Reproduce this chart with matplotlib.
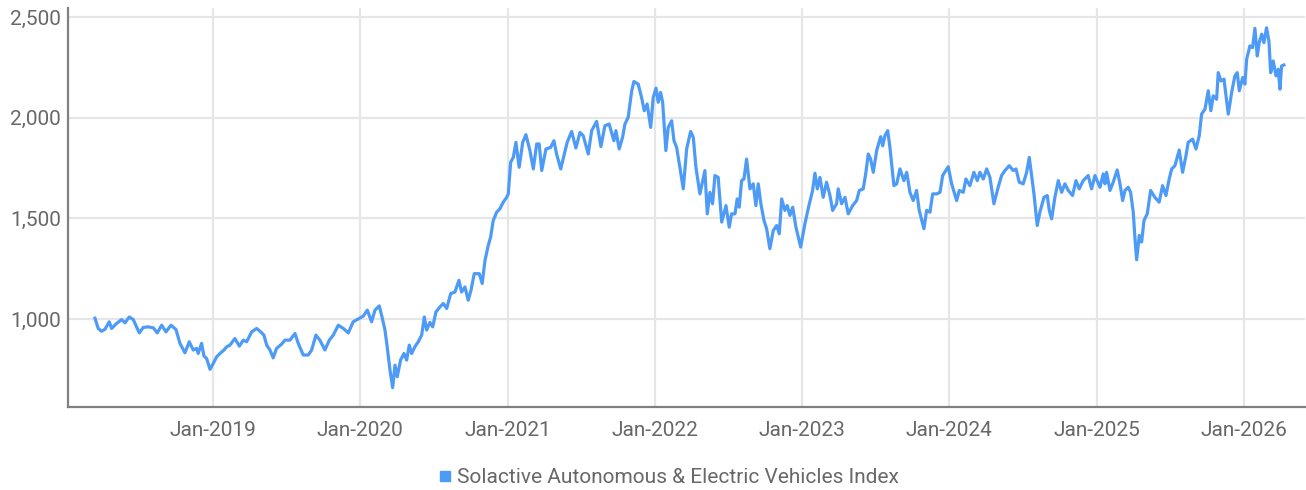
import matplotlib
matplotlib.use("Agg")
import matplotlib.pyplot as plt
from matplotlib.lines import Line2D
from datetime import datetime, timedelta

# Decimal-year dates and index levels
years = [
    2018.199, 2018.221, 2018.244, 2018.267, 2018.296, 2018.312, 2018.346, 2018.380, 2018.403, 2018.432,
    2018.459, 2018.500, 2018.527, 2018.561, 2018.595, 2018.622, 2018.652, 2018.681, 2018.715, 2018.749,
    2018.776, 2018.810, 2018.839, 2018.866, 2018.889, 2018.900, 2018.923, 2018.939, 2018.957, 2018.980,
    2019.002, 2019.025, 2019.048, 2019.075, 2019.093, 2019.115, 2019.149, 2019.179, 2019.206, 2019.229,
    2019.263, 2019.297, 2019.324, 2019.346, 2019.365, 2019.387, 2019.409, 2019.432, 2019.466, 2019.489,
    2019.523, 2019.557, 2019.579, 2019.613, 2019.647, 2019.670, 2019.699, 2019.726, 2019.760, 2019.790,
    2019.817, 2019.851, 2019.885, 2019.919, 2019.952, 2019.998, 2020.020, 2020.048, 2020.077, 2020.100,
    2020.129, 2020.145, 2020.168, 2020.183, 2020.202, 2020.220, 2020.236, 2020.251, 2020.274, 2020.297,
    2020.315, 2020.333, 2020.349, 2020.371, 2020.394, 2020.417, 2020.435, 2020.451, 2020.473, 2020.492,
    2020.514, 2020.541, 2020.564, 2020.587, 2020.614, 2020.643, 2020.670, 2020.688, 2020.711, 2020.733,
    2020.752, 2020.774, 2020.808, 2020.828, 2020.847, 2020.869, 2020.885, 2020.903, 2020.926, 2020.948,
    2020.971, 2020.994, 2021.005, 2021.021, 2021.039, 2021.057, 2021.079, 2021.103, 2021.125, 2021.152,
    2021.175, 2021.198, 2021.215, 2021.232, 2021.261, 2021.293, 2021.315, 2021.333, 2021.361, 2021.383,
    2021.405, 2021.435, 2021.464, 2021.492, 2021.514, 2021.548, 2021.571, 2021.605, 2021.634, 2021.661,
    2021.690, 2021.722, 2021.736, 2021.758, 2021.781, 2021.797, 2021.819, 2021.843, 2021.858, 2021.887,
    2021.910, 2021.928, 2021.948, 2021.972, 2021.989, 2022.008, 2022.023, 2022.039, 2022.053, 2022.075,
    2022.091, 2022.114, 2022.130, 2022.148, 2022.170, 2022.193, 2022.216, 2022.243, 2022.261, 2022.279,
    2022.306, 2022.329, 2022.340, 2022.356, 2022.374, 2022.392, 2022.408, 2022.430, 2022.454, 2022.483,
    2022.505, 2022.521, 2022.544, 2022.559, 2022.573, 2022.589, 2022.605, 2022.623, 2022.646, 2022.668,
    2022.686, 2022.702, 2022.720, 2022.741, 2022.759, 2022.781, 2022.804, 2022.827, 2022.845, 2022.861,
    2022.883, 2022.899, 2022.917, 2022.936, 2022.958, 2022.990, 2023.019, 2023.041, 2023.071, 2023.087,
    2023.103, 2023.121, 2023.143, 2023.166, 2023.189, 2023.207, 2023.234, 2023.245, 2023.268, 2023.291,
    2023.313, 2023.343, 2023.370, 2023.388, 2023.415, 2023.433, 2023.449, 2023.465, 2023.483, 2023.506,
    2023.533, 2023.547, 2023.562, 2023.581, 2023.596, 2023.623, 2023.642, 2023.664, 2023.691, 2023.710,
    2023.732, 2023.754, 2023.777, 2023.795, 2023.827, 2023.845, 2023.868, 2023.886, 2023.913, 2023.936,
    2023.954, 2023.992, 2024.015, 2024.049, 2024.067, 2024.094, 2024.112, 2024.139, 2024.166, 2024.189,
    2024.207, 2024.230, 2024.253, 2024.275, 2024.302, 2024.331, 2024.354, 2024.377, 2024.406, 2024.433,
    2024.452, 2024.474, 2024.501, 2024.524, 2024.542, 2024.558, 2024.574, 2024.596, 2024.614, 2024.642,
    2024.664, 2024.678, 2024.694, 2024.716, 2024.739, 2024.762, 2024.784, 2024.807, 2024.836, 2024.859,
    2024.881, 2024.908, 2024.942, 2024.965, 2024.988, 2025.022, 2025.044, 2025.056, 2025.067, 2025.090,
    2025.112, 2025.139, 2025.158, 2025.176, 2025.192, 2025.214, 2025.230, 2025.248, 2025.259, 2025.271,
    2025.289, 2025.305, 2025.321, 2025.343, 2025.366, 2025.395, 2025.424, 2025.447, 2025.470, 2025.492,
    2025.509, 2025.531, 2025.560, 2025.583, 2025.606, 2025.621, 2025.651, 2025.674, 2025.696, 2025.712,
    2025.735, 2025.757, 2025.775, 2025.791, 2025.814, 2025.825, 2025.843, 2025.864, 2025.893, 2025.916,
    2025.938, 2025.954, 2025.968, 2025.991, 2026.006, 2026.018, 2026.040, 2026.058, 2026.074, 2026.090,
    2026.103, 2026.120, 2026.135, 2026.153, 2026.169, 2026.181, 2026.198, 2026.217, 2026.232, 2026.244,
    2026.255, 2026.271,
]

index_values = [
    1005, 954, 940, 950, 987, 954, 979, 998, 982, 1011,
    998, 932, 959, 962, 957, 932, 970, 937, 970, 949,
    880, 833, 888, 847, 855, 830, 880, 817, 805, 751,
    780, 813, 830, 847, 863, 871, 904, 866, 896, 888,
    937, 954, 937, 921, 871, 847, 808, 855, 876, 896,
    896, 929, 880, 822, 822, 847, 921, 896, 847, 896,
    921, 970, 954, 932, 987, 1006, 1015, 1045, 987, 1045,
    1066, 1020, 946, 863, 747, 660, 772, 714, 797, 830,
    797, 871, 830, 863, 888, 921, 1011, 946, 984, 962,
    1036, 1061, 1078, 1053, 1127, 1135, 1193, 1135, 1160, 1094,
    1144, 1226, 1226, 1177, 1292, 1366, 1407, 1490, 1531, 1548,
    1581, 1605, 1622, 1779, 1803, 1878, 1754, 1878, 1916, 1837,
    1746, 1870, 1870, 1738, 1845, 1853, 1886, 1820, 1746, 1812,
    1878, 1932, 1850, 1927, 1911, 1820, 1936, 1982, 1857, 1960,
    1969, 1886, 1936, 1845, 1903, 1969, 2002, 2134, 2180, 2167,
    2101, 2035, 2068, 1952, 2101, 2147, 2077, 2126, 2077, 1837,
    1952, 1985, 1886, 1853, 1754, 1647, 1845, 1932, 1903, 1754,
    1622, 1700, 1738, 1523, 1630, 1573, 1713, 1704, 1482, 1564,
    1457, 1523, 1523, 1597, 1556, 1688, 1696, 1795, 1647, 1672,
    1564, 1672, 1573, 1490, 1449, 1350, 1440, 1465, 1424, 1597,
    1540, 1564, 1515, 1556, 1457, 1358, 1474, 1548, 1639, 1725,
    1647, 1704, 1605, 1680, 1614, 1540, 1573, 1647, 1573, 1605,
    1523, 1564, 1589, 1639, 1647, 1729, 1820, 1795, 1729, 1837,
    1906, 1861, 1911, 1936, 1853, 1663, 1672, 1746, 1688, 1729,
    1630, 1589, 1639, 1540, 1449, 1540, 1531, 1622, 1622, 1630,
    1713, 1757, 1672, 1589, 1639, 1630, 1696, 1663, 1729, 1688,
    1729, 1696, 1746, 1704, 1573, 1655, 1713, 1738, 1762, 1738,
    1746, 1680, 1672, 1729, 1803, 1713, 1622, 1465, 1531, 1605,
    1614, 1540, 1498, 1605, 1688, 1630, 1672, 1639, 1614, 1688,
    1647, 1688, 1713, 1647, 1713, 1655, 1721, 1672, 1729, 1639,
    1680, 1741, 1672, 1589, 1639, 1655, 1630, 1531, 1407, 1295,
    1416, 1383, 1490, 1523, 1639, 1605, 1581, 1663, 1614, 1696,
    1746, 1762, 1840, 1729, 1812, 1878, 1894, 1845, 1911, 2018,
    2043, 2134, 2035, 2109, 2092, 2224, 2183, 2192, 2018, 2126,
    2208, 2224, 2134, 2200, 2167, 2291, 2357, 2348, 2444, 2307,
    2373, 2415, 2373, 2447, 2381, 2224, 2282, 2208, 2241, 2142,
    2257, 2262,
]

series_name = "Solactive Autonomous & Electric Vehicles Index"
y_ticks = [1000, 1500, 2000, 2500]
x_tick_years = [2019, 2020, 2021, 2022, 2023, 2024, 2025, 2026]


def to_date(t):
    return datetime(2019, 1, 1) + timedelta(days=(t - 2019.0) * 365.25)


dates = [to_date(t) for t in years]

line_color = "#4d9bf7"
grid_color = "#e6e6e6"
spine_color = "#808080"
text_color = "#686868"

plt.rcParams["font.family"] = ["Roboto", "DejaVu Sans"]

fig = plt.figure(figsize=(13.06, 4.90), dpi=100)
ax = fig.add_axes([68 / 1306, 1 - 407 / 490, (1305 - 68) / 1306, (407 - 8) / 490])

ax.plot(dates, index_values, color=line_color, lw=2.3, solid_joinstyle="round", zorder=3)

ax.set_xlim(to_date(2018.016), to_date(2026.414))
ax.set_ylim(564, 2545)

ax.set_yticks(y_ticks)
ax.set_yticklabels([f"{v:,}" for v in y_ticks])
ax.set_xticks([datetime(y, 1, 1) for y in x_tick_years])
ax.set_xticklabels([f"Jan-{y}" for y in x_tick_years])

ax.grid(True, color=grid_color, lw=1.6, zorder=0)
ax.set_axisbelow(True)

for s in ["top", "right"]:
    ax.spines[s].set_visible(False)
for s in ["left", "bottom"]:
    ax.spines[s].set_color(spine_color)
    ax.spines[s].set_linewidth(1.6)

ax.tick_params(axis="both", length=0, labelsize=15, labelcolor=text_color)
ax.tick_params(axis="y", pad=5)
ax.tick_params(axis="x", pad=10)

handle = Line2D([], [], marker="s", color=line_color, linestyle="none", markersize=7.5)
leg = fig.legend([handle], [series_name], loc="center", bbox_to_anchor=(0.512, 0.025),
                 frameon=False, handlelength=0.6, handletextpad=0.25,
                 prop={"size": 15, "family": ["Roboto", "DejaVu Sans"]})
for t in leg.get_texts():
    t.set_color(text_color)

fig.savefig("out.png", dpi=100)
